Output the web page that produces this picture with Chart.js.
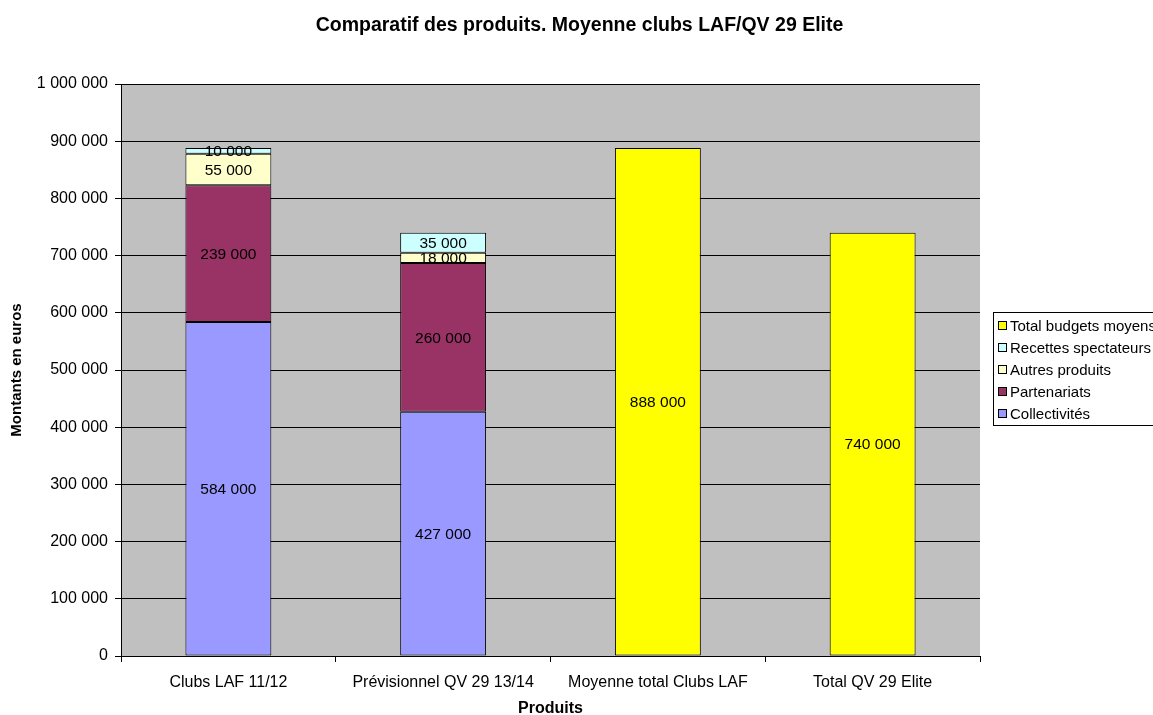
<!DOCTYPE html>
<html>
<head>
<meta charset="utf-8">
<script src="https://cdn.jsdelivr.net/npm/chart.js@4/dist/chart.umd.min.js"></script>
<style>
  body { margin: 0; background: #fff; }
  #wrap { width: 1153px; height: 715px; position: relative; }
</style>
</head>
<body>
<div id="wrap"><canvas id="graphique"></canvas></div>
<script>
// Données du graphique
const categories = ['Clubs LAF 11/12', 'Prévisionnel QV 29 13/14', 'Moyenne total Clubs LAF', 'Total QV 29 Elite'];
const collectivites = [584000, 427000, null, null];
const partenariats = [239000, 260000, null, null];
const autresProduits = [55000, 18000, null, null];
const recettesSpectateurs = [10000, 35000, null, null];
const totalBudgets = [null, null, 888000, 740000];
const graduations = [0, 100000, 200000, 300000, 400000, 500000, 600000, 700000, 800000, 900000, 1000000];
const titre = 'Comparatif des produits. Moyenne clubs LAF/QV 29 Elite';

const police = "'Liberation Sans', Arial, sans-serif";

// 1000000 -> "1 000 000"
function formatMontant(n) {
    return String(n).replace(/\B(?=(\d{3})+(?!\d))/g, ' ');
}

// fond gris de la zone de tracé + titre centré sur toute la largeur
const fondGris = {
    id: 'fondGris',
    beforeDraw(chart) {
        const { ctx, chartArea } = chart;
        ctx.save();
        ctx.fillStyle = '#C0C0C0';
        ctx.fillRect(chartArea.left, chartArea.top, chartArea.right - chartArea.left, chartArea.bottom - chartArea.top);
        ctx.fillStyle = '#000';
        ctx.font = 'bold 19.5px ' + police;
        ctx.textAlign = 'center';
        ctx.textBaseline = 'alphabetic';
        ctx.fillText(titre, chart.width / 2 + 3, 31);
        ctx.restore();
    }
};

// étiquettes des valeurs au centre des barres
const etiquettes = {
    id: 'etiquettes',
    afterDatasetsDraw(chart) {
        const ctx = chart.ctx;
        ctx.save();
        ctx.font = '15.5px ' + police;
        ctx.fillStyle = '#000';
        ctx.textAlign = 'center';
        ctx.textBaseline = 'middle';
        chart.data.datasets.forEach((ds, i) => {
            const meta = chart.getDatasetMeta(i);
            meta.data.forEach((bar, j) => {
                const v = ds.data[j];
                if (v == null) return;
                ctx.fillText(formatMontant(v), bar.x, (bar.y + bar.base) / 2 + 1);
            });
        });
        ctx.restore();
    }
};

// légende encadrée à droite, ordre inversé
const legende = {
    id: 'legende',
    afterDraw(chart) {
        const { ctx, chartArea } = chart;
        const x = chartArea.right + 13;
        const y = 312;
        ctx.save();
        ctx.fillStyle = '#fff';
        ctx.fillRect(x, y, 200, 113);
        ctx.strokeStyle = '#000';
        ctx.lineWidth = 1;
        ctx.strokeRect(x + 0.5, y + 0.5, 200, 113);
        ctx.font = '15px ' + police;
        ctx.textBaseline = 'middle';
        const items = chart.data.datasets.slice().reverse();
        items.forEach((ds, i) => {
            const cy = y + 14 + i * 22;
            ctx.fillStyle = ds.backgroundColor;
            ctx.fillRect(x + 5, cy - 4, 8, 8);
            ctx.strokeStyle = '#000';
            ctx.strokeRect(x + 5.5, cy - 4.5, 8, 8);
            ctx.fillStyle = '#000';
            ctx.fillText(ds.label, x + 17, cy + 1);
        });
        ctx.restore();
    }
};

const ctx = document.getElementById('graphique').getContext('2d');
new Chart(ctx, {
    type: 'bar',
    data: {
        labels: categories,
        datasets: [{
            label: 'Collectivités',
            data: collectivites,
            backgroundColor: '#9999FF'
        }, {
            label: 'Partenariats',
            data: partenariats,
            backgroundColor: '#993366'
        }, {
            label: 'Autres produits',
            data: autresProduits,
            backgroundColor: '#FFFFCC'
        }, {
            label: 'Recettes spectateurs',
            data: recettesSpectateurs,
            backgroundColor: '#CCFFFF'
        }, {
            label: 'Total budgets moyens',
            data: totalBudgets,
            backgroundColor: '#FFFF00'
        }]
    },
    options: {
        responsive: true,
        maintainAspectRatio: false,
        animation: false,
        datasets: {
            bar: {
                borderColor: '#000',
                borderWidth: 1,
                borderSkipped: false,
                categoryPercentage: 1,
                barPercentage: 0.4
            }
        },
        layout: { padding: { left: 0, right: 173, top: 84, bottom: 0 } },
        plugins: {
            legend: { display: false },
            tooltip: { enabled: false },
            title: { display: false }
        },
        scales: {
            x: {
                stacked: true,
                afterFit(scale) { scale.height = 59; },
                border: { color: '#000', width: 1 },
                grid: { drawOnChartArea: false, drawTicks: true, tickLength: 6, color: '#000', offset: true },
                ticks: { color: '#000', font: { family: police, size: 16 }, padding: 11, maxRotation: 0, autoSkip: false },
                title: {
                    display: true,
                    text: 'Produits',
                    color: '#000',
                    font: { family: police, size: 16, weight: 'bold' },
                    padding: { top: 0, bottom: -3 }
                }
            },
            y: {
                stacked: true,
                min: 0,
                max: 1000000,
                afterFit(scale) { scale.width = 121; },
                afterBuildTicks(scale) { scale.ticks = graduations.map(v => ({ value: v })); },
                border: { color: '#000', width: 1 },
                grid: { color: '#000', tickLength: 6, drawTicks: true },
                ticks: {
                    color: '#000',
                    font: { family: police, size: 16 },
                    padding: 7,
                    callback: v => formatMontant(v)
                },
                title: {
                    display: true,
                    text: 'Montants en euros',
                    color: '#000',
                    font: { family: police, size: 15, weight: 'bold' },
                    padding: { top: 8, bottom: 0 }
                }
            }
        }
    },
    plugins: [fondGris, etiquettes, legende]
});
</script>
</body>
</html>
